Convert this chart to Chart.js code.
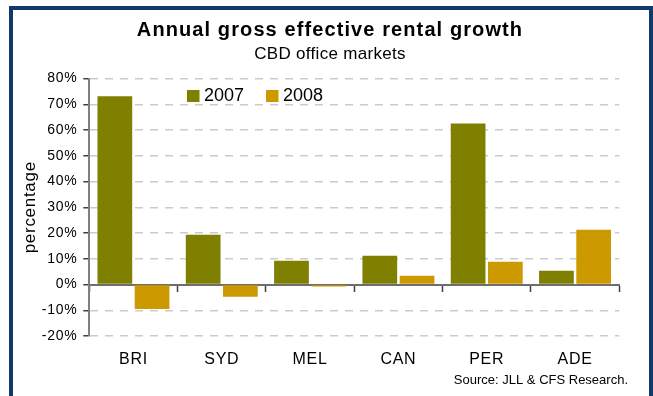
<!DOCTYPE html>
<html>
<head>
<meta charset="utf-8">
<script src="https://cdn.jsdelivr.net/npm/chart.js@4.4.0/dist/chart.umd.min.js"></script>
<style>
  body { margin: 0; background: #fff; }
  canvas { display: block; }
</style>
</head>
<body>
<canvas id="rentChart" width="653" height="396"></canvas>
<script>
// chart values
var markets = ['BRI', 'SYD', 'MEL', 'CAN', 'PER', 'ADE'];
var growth2007 = [73.1, 19.3, 9.2, 11.2, 62.5, 5.3];
var growth2008 = [-9.5, -4.8, -0.8, 3.4, 8.8, 21.3];
var seriesNames = ['2007', '2008'];

var FONT = "'Liberation Sans', Arial, sans-serif";

// frame, titles, legend and source note
var decor = {
    id: 'decor',
    beforeDraw: function(chart) {
        // slightly wider text for the axis labels, like the original
        chart.ctx.letterSpacing = '0.7px';
    },
    beforeDatasetsDraw: function(chart) {
        chart.ctx.letterSpacing = '0px';
    },
    afterDraw: function(chart) {
        var ctx = chart.ctx;
        ctx.save();
        // navy frame
        ctx.strokeStyle = '#0F3A6B';
        ctx.lineWidth = 4;
        ctx.strokeRect(11, 8, 640, 400);

        ctx.fillStyle = '#000';
        ctx.textAlign = 'center';
        ctx.textBaseline = 'alphabetic';
        ctx.font = 'bold 20px ' + FONT;
        ctx.letterSpacing = '1.1px';
        ctx.fillText('Annual gross effective rental growth', 330, 36);
        ctx.font = '17px ' + FONT;
        ctx.letterSpacing = '0.3px';
        ctx.fillText('CBD office markets', 330, 59);
        ctx.letterSpacing = '0px';

        // legend
        var xs = [187, 266];
        ctx.font = '18px ' + FONT;
        ctx.textAlign = 'left';
        chart.data.datasets.forEach(function(ds, i) {
            ctx.fillStyle = ds.backgroundColor;
            ctx.fillRect(xs[i], 90, 12.5, 12);
            ctx.fillStyle = '#000';
            ctx.fillText(ds.label, xs[i] + 17, 101);
        });

        // source
        ctx.font = '13px ' + FONT;
        ctx.textAlign = 'right';
        ctx.fillText('Source: JLL & CFS Research.', 628, 384);
        ctx.restore();
    }
};

var ctx = document.getElementById('rentChart').getContext('2d');
var rentChart = new Chart(ctx, {
    type: 'bar',
    data: {
        labels: markets,
        datasets: [{
            label: seriesNames[0],
            data: growth2007,
            backgroundColor: '#808000',
            barPercentage: 0.933,
            categoryPercentage: 0.843
        }, {
            label: seriesNames[1],
            data: growth2008,
            backgroundColor: '#CC9900',
            barPercentage: 0.933,
            categoryPercentage: 0.843
        }]
    },
    options: {
        responsive: false,
        animation: false,
        layout: {
            padding: { left: 0, top: 78.5, right: 30, bottom: 60 }
        },
        plugins: {
            legend: { display: false },
            title: { display: false },
            tooltip: { enabled: false }
        },
        scales: {
            x: {
                position: { y: 0 },
                grid: {
                    offset: true,
                    drawOnChartArea: false,
                    drawTicks: true,
                    tickLength: 6,
                    tickColor: '#404040',
                    tickWidth: 1.5
                },
                border: { display: true, color: '#6e6e6e', width: 2 },
                ticks: {
                    padding: 59,
                    color: '#000',
                    font: { family: FONT, size: 16 }
                }
            },
            y: {
                min: -20,
                max: 80,
                afterFit: function(scale) { scale.width = 89.3; },
                ticks: {
                    stepSize: 10,
                    padding: 6,
                    color: '#000',
                    font: { family: FONT, size: 14 },
                    callback: function(v) { return v + '%'; }
                },
                grid: {
                    color: function(c) {
                        return c.tick && c.tick.value === 0 ? 'rgba(0,0,0,0)' : '#cccccc';
                    },
                    lineWidth: 1.5,
                    tickLength: 6,
                    tickColor: '#404040',
                    tickWidth: 1.5
                },
                border: {
                    display: true,
                    color: '#808080',
                    width: 2,
                    dash: function(c) {
                        return c.tick && c.tick.value === 0 ? [] : [8, 7];
                    }
                },
                title: {
                    display: true,
                    text: 'percentage',
                    color: '#000',
                    font: { family: FONT, size: 17 },
                    padding: { top: 20, bottom: 0 }
                }
            }
        }
    },
    plugins: [decor]
});
</script>
</body>
</html>
